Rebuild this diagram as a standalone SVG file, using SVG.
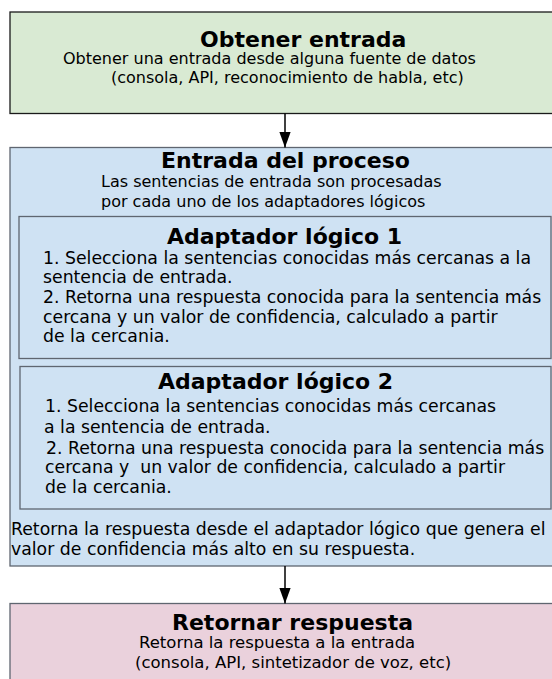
<svg xmlns="http://www.w3.org/2000/svg" width="552" height="679" viewBox="0 0 552 679">
<defs>
<style>
.t{font-family:"DejaVu Sans",Verdana,sans-serif;font-size:22px;font-weight:bold;fill:#000}
.b{font-family:"DejaVu Sans",Verdana,sans-serif;font-size:17.3px;fill:#000}
.s{font-family:"DejaVu Sans",Verdana,sans-serif;font-size:16px;fill:#000}
.p{font-family:"DejaVu Sans",Verdana,sans-serif;font-size:16.5px;fill:#000}
.green{fill:#d9ead3;stroke:#1a1a1a;stroke-width:1.3}
.blue{fill:#cfe2f3;stroke:#5f6670;stroke-width:1.3}
.pink{fill:#ead1dc;stroke:#5f6670;stroke-width:1.3}
.edge{stroke:#000;stroke-width:1.5;fill:none}
</style>
<marker id="ah" markerWidth="16" markerHeight="22" refX="22" refY="8" orient="auto" markerUnits="userSpaceOnUse" viewBox="0 0 22 16">
<path d="M0,0 L22,8 L0,16 Z" fill="#000"/>
</marker>
</defs>
<rect width="552" height="679" fill="#fff"/>
<g id="obtener">
<rect class="green" x="10" y="12" width="560" height="101.5"/>
<text class="t" x="200" y="47">Obtener entrada</text>
<text class="s" x="63" y="64">Obtener una entrada desde alguna fuente de datos</text>
<text class="s" x="111" y="83">(consola, API, reconocimiento de habla, etc)</text>
</g>
<g id="proceso">
<rect class="blue" x="10" y="147.5" width="560" height="418.5"/>
<text class="t" x="161" y="168">Entrada del proceso</text>
<text class="s" x="101" y="187">Las sentencias de entrada son procesadas</text>
<text class="s" x="101" y="207">por cada uno de los adaptadores lógicos</text>
<text class="b" x="11" y="535">Retorna la respuesta desde el adaptador lógico que genera el</text>
<text class="b" x="11" y="555">valor de confidencia más alto en su respuesta.</text>
</g>
<g id="adaptador1">
<rect class="blue" x="19" y="216.5" width="532" height="142"/>
<text class="t" x="167" y="244">Adaptador lógico 1</text>
<text class="b" x="43" y="263.5">1. Selecciona la sentencias conocidas más cercanas a la</text>
<text class="b" x="43" y="283">sentencia de entrada.</text>
<text class="b" x="43" y="303">2. Retorna una respuesta conocida para la sentencia más</text>
<text class="b" x="43" y="322.5">cercana y un valor de confidencia, calculado a partir</text>
<text class="b" x="43" y="342">de la cercania.</text>
</g>
<g id="adaptador2">
<rect class="blue" x="20" y="366.5" width="531" height="142.5"/>
<text class="t" x="158" y="389">Adaptador lógico 2</text>
<text class="b" x="45" y="412">1. Selecciona la sentencias conocidas más cercanas</text>
<text class="b" x="44" y="433">a la sentencia de entrada.</text>
<text class="b" x="46" y="453.5">2. Retorna una respuesta conocida para la sentencia más</text>
<text class="b" x="45" y="473" xml:space="preserve">cercana y  un valor de confidencia, calculado a partir</text>
<text class="b" x="45" y="493">de la cercania.</text>
</g>
<g id="retornar">
<rect class="pink" x="10" y="603.5" width="560" height="90"/>
<text class="t" x="172" y="630">Retornar respuesta</text>
<text class="p" x="139" y="648">Retorna la respuesta a la entrada</text>
<text class="p" x="135" y="668">(consola, API, sintetizador de voz, etc)</text>
</g>
<g id="connectors">
<path class="edge" d="M285,113.5 V147.5" marker-end="url(#ah)"/>
<path class="edge" d="M285,566 V603.5" marker-end="url(#ah)"/>
</g>
</svg>
